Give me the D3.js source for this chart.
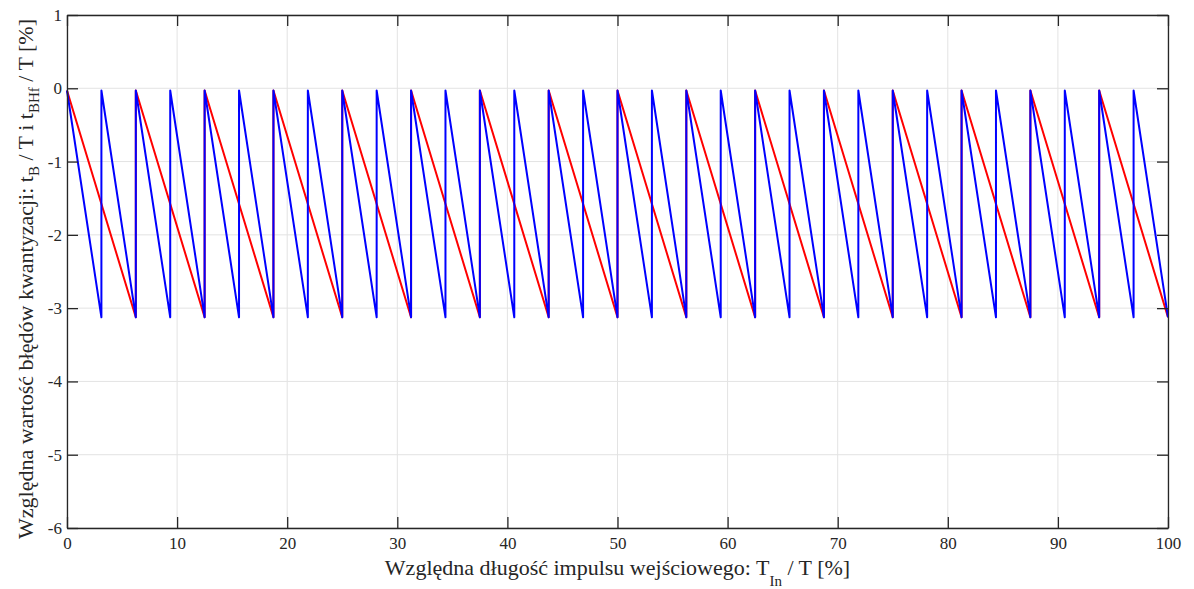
<!DOCTYPE html>
<html>
<head>
<meta charset="utf-8">
<script src="https://cdn.jsdelivr.net/npm/d3@7"></script>
<style>
  body { margin: 0; background: #fff; }
  svg text { font-family: "Liberation Serif", "Times New Roman", serif; fill: #262626; }
</style>
</head>
<body>
<svg id="svg1"></svg>
<script>
// tooth boundaries (x, %) for both series
const redEdges = [0, 6.25, 12.5, 18.75, 25, 31.25, 37.5, 43.75, 50, 56.25, 62.5, 68.75, 75, 81.25, 87.5, 93.75, 100];
const blueEdges = [0, 3.125, 6.25, 9.375, 12.5, 15.625, 18.75, 21.875, 25, 28.125, 31.25, 34.375, 37.5, 40.625,
    43.75, 46.875, 50, 53.125, 56.25, 59.375, 62.5, 65.625, 68.75, 71.875, 75, 78.125, 81.25, 84.375, 87.5,
    90.625, 93.75, 96.875, 100];
const toothTop = -0.03;
const toothBottom = -3.125;
const xTicks = [0, 10, 20, 30, 40, 50, 60, 70, 80, 90, 100];
const yTicks = [1, 0, -1, -2, -3, -4, -5, -6];

function sawPoints(edges) {
    let arr = [];
    for (let i = 0; i < edges.length - 1; i++) {
        arr.push({ x: edges[i], y: toothTop });
        arr.push({ x: edges[i + 1], y: toothBottom });
    }
    return arr;
}

let svgWidth = 1194, svgHeight = 589;
let margin = { top: 15, right: 26, bottom: 61, left: 67 };
let width = svgWidth - margin.left - margin.right;
let height = svgHeight - margin.top - margin.bottom;

let svg1 = d3.select('#svg1')
    .attr("width", svgWidth)
    .attr("height", svgHeight);

let g = svg1.append('g')
    .attr("transform", "translate(" + margin.left + "," + margin.top + ")");

let x = d3.scaleLinear().domain([0, 100]).range([0, width]);
let y = d3.scaleLinear().domain([-6, 1]).range([height, 0]);

// grid
g.append("g").selectAll("line").data(xTicks).join("line")
    .attr("x1", d => x(d)).attr("x2", d => x(d))
    .attr("y1", 0).attr("y2", height)
    .attr("stroke", "#e3e3e3").attr("stroke-width", 1);
g.append("g").selectAll("line").data(yTicks).join("line")
    .attr("y1", d => y(d)).attr("y2", d => y(d))
    .attr("x1", 0).attr("x2", width)
    .attr("stroke", "#e3e3e3").attr("stroke-width", 1);

let line = d3.line()
    .x(function (d) { return x(d.x); })
    .y(function (d) { return y(d.y); });

g.append("path")
    .datum(sawPoints(redEdges))
    .attr("fill", "none")
    .attr("stroke", "#ff0000")
    .attr("stroke-width", 2)
    .attr("stroke-linejoin", "round")
    .attr("d", line);

g.append("path")
    .datum(sawPoints(blueEdges))
    .attr("fill", "none")
    .attr("stroke", "#0000ff")
    .attr("stroke-width", 2)
    .attr("stroke-linejoin", "round")
    .attr("d", line);

// axes, ticks inside like matlab
const fmt = d => String(d);
function styleAxis(sel) {
    sel.attr("font-family", "Liberation Serif").attr("font-size", 17);
    sel.selectAll(".domain").attr("stroke", "#262626").attr("stroke-width", 1.3);
    sel.selectAll(".tick line").attr("stroke", "#262626").attr("stroke-width", 1.3);
    sel.selectAll("text").attr("fill", "#262626").style("font-family", "Liberation Serif");
}

g.append("g")
    .attr("transform", "translate(0," + height + ")")
    .call(d3.axisBottom(x).tickValues(xTicks).tickFormat(fmt).tickSize(-11).tickPadding(9).tickSizeOuter(0))
    .call(styleAxis);
g.append("g")
    .call(d3.axisTop(x).tickValues(xTicks).tickSize(-11).tickFormat("").tickSizeOuter(0))
    .call(styleAxis);
g.append("g")
    .call(d3.axisLeft(y).tickValues(yTicks).tickFormat(fmt).tickSize(-11).tickPadding(5).tickSizeOuter(0))
    .call(styleAxis);
g.append("g")
    .attr("transform", "translate(" + width + ",0)")
    .call(d3.axisRight(y).tickValues(yTicks).tickSize(-11).tickFormat("").tickSizeOuter(0))
    .call(styleAxis);

// x label
let xl = svg1.append("text")
    .attr("x", margin.left + width / 2)
    .attr("y", 575)
    .attr("text-anchor", "middle")
    .attr("font-size", 22);
xl.append("tspan").text("Względna długość impulsu wejściowego: T");
xl.append("tspan").attr("font-size", 15).attr("dy", 11).text("In");
xl.append("tspan").attr("dy", -11).text(" / T [%]");

// y label
let yl = svg1.append("text")
    .attr("transform", "translate(33,279) rotate(-90)")
    .attr("text-anchor", "middle")
    .attr("font-size", 22);
yl.append("tspan").text("Względna wartość błędów kwantyzacji: t");
yl.append("tspan").attr("font-size", 15).attr("dy", 6).text("B");
yl.append("tspan").attr("dy", -6).text(" / T i t");
yl.append("tspan").attr("font-size", 15).attr("dy", 6).text("BHf");
yl.append("tspan").attr("dy", -6).text(" / T [%]");
</script>
</body>
</html>
